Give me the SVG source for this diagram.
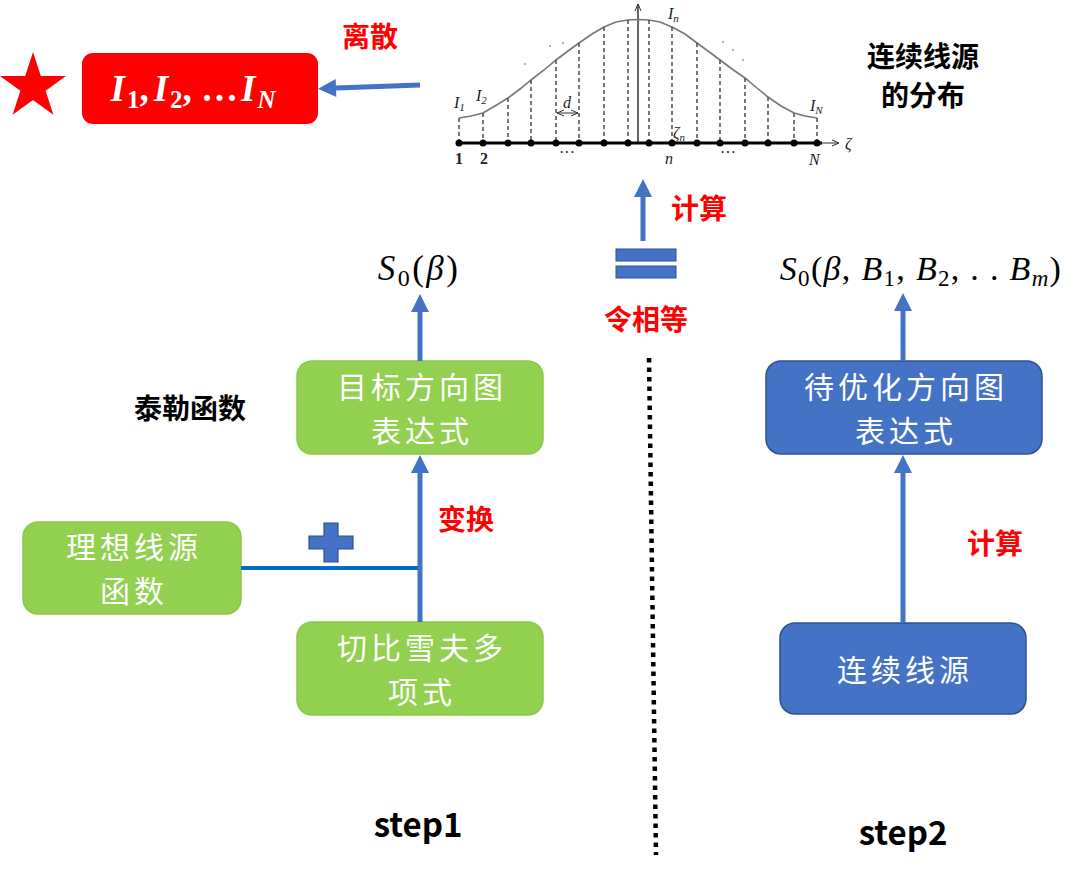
<svg xmlns="http://www.w3.org/2000/svg" width="1080" height="876" viewBox="0 0 1080 876">
<style>
.cn{font-family:"Noto Sans CJK SC","Noto Sans",sans-serif}
.red{fill:#FF0000;font-weight:bold;font-size:28px}
.blk{fill:#000;font-weight:bold;font-size:28px}
.wt{fill:#fff;font-size:30px;letter-spacing:4px}
.math{font-family:"Liberation Serif",serif}
.sm{font-family:"Liberation Serif",serif;font-size:16px;fill:#222}
.conn{stroke:#4472C4;stroke-width:5;fill:none}
.green{fill:#92D050;stroke:#8CC84B;stroke-width:1.5}
.blue{fill:#4472C4;stroke:#2F528F;stroke-width:1.5}
.dash{stroke:#555;stroke-width:1.6;stroke-dasharray:4 3}
</style>
<defs>
<marker id="ah" markerUnits="userSpaceOnUse" markerWidth="18" markerHeight="18" refX="0" refY="9" orient="auto" overflow="visible">
<path d="M0,0 L18,9 L0,18 z" fill="#4472C4"/>
</marker>
<marker id="sa" markerUnits="userSpaceOnUse" markerWidth="8" markerHeight="8" refX="7" refY="4" orient="auto-start-reverse" overflow="visible">
<path d="M0,1 L7,4 L0,7" fill="none" stroke="#333" stroke-width="1"/>
</marker>
</defs>
<rect width="1080" height="876" fill="#fff"/>

<!-- star -->
<polygon id="star" points="33,52 40.8,75.9 66,76 45.6,90.8 53.4,114.8 33,100 12.6,114.8 20.4,90.8 0,76 25.2,75.9" fill="#FF0000"/>

<!-- red result node -->
<g id="node-result">
<rect x="82" y="53" width="236" height="71" rx="11" fill="#FF0000"/>
<text x="193" y="101" text-anchor="middle" class="math" font-weight="bold" font-size="37" fill="#fff"><tspan font-style="italic">I</tspan><tspan font-size="25" dy="7" dx="2">1</tspan><tspan dy="-7">,</tspan><tspan font-style="italic" dx="5">I</tspan><tspan font-size="25" dy="7" dx="2">2</tspan><tspan dy="-7">, …</tspan><tspan font-style="italic" dx="3">I</tspan><tspan font-size="25" font-style="italic" dy="7" dx="2">N</tspan></text>
</g>
<text class="cn red" x="370" y="47" text-anchor="middle">离散</text>

<!-- distribution figure -->
<g id="node-distribution">
<line x1="638" y1="143" x2="638" y2="4" stroke="#333" stroke-width="1.5" marker-end="url(#sa)"/>
<polyline fill="none" stroke="#777" stroke-width="1.6" points="459,118 471,116 483,113 495,106 508,98 520,89 531,80 544,70 556,60 568,51 579,43 592,34 604,27 616,22 628,20 638,19.5 649,20 660,22 672,27 685,34 697,43 708,51 720,60 732,69 745,78 757,88 768,97 781,106 794,113 805,116 817,118"/>
<g class="dash">
<line x1="459" y1="118" x2="459" y2="143"/>
<line x1="483" y1="113" x2="483" y2="143"/>
<line x1="508" y1="98" x2="508" y2="143"/>
<line x1="531" y1="80" x2="531" y2="143"/>
<line x1="556" y1="60" x2="556" y2="143"/>
<line x1="579" y1="43" x2="579" y2="143"/>
<line x1="604" y1="27" x2="604" y2="143"/>
<line x1="628" y1="20" x2="628" y2="143"/>
<line x1="649" y1="20" x2="649" y2="143"/>
<line x1="672" y1="27" x2="672" y2="143"/>
<line x1="697" y1="43" x2="697" y2="143"/>
<line x1="720" y1="60" x2="720" y2="143"/>
<line x1="745" y1="78" x2="745" y2="143"/>
<line x1="768" y1="97" x2="768" y2="143"/>
<line x1="794" y1="113" x2="794" y2="143"/>
<line x1="817" y1="118" x2="817" y2="143"/>
</g>
<line x1="456" y1="143" x2="822" y2="143" stroke="#000" stroke-width="3"/>
<line x1="820" y1="143" x2="839" y2="143" stroke="#333" stroke-width="1" marker-end="url(#sa)"/>
<g fill="#000">
<circle cx="459" cy="143" r="3.5"/><circle cx="483" cy="143" r="3.5"/><circle cx="508" cy="143" r="3.5"/><circle cx="531" cy="143" r="3.5"/>
<circle cx="556" cy="143" r="3.5"/><circle cx="579" cy="143" r="3.5"/><circle cx="604" cy="143" r="3.5"/><circle cx="628" cy="143" r="3.5"/>
<circle cx="649" cy="143" r="3.5"/><circle cx="672" cy="143" r="3.5"/><circle cx="697" cy="143" r="3.5"/><circle cx="720" cy="143" r="3.5"/>
<circle cx="745" cy="143" r="3.5"/><circle cx="768" cy="143" r="3.5"/><circle cx="794" cy="143" r="3.5"/><circle cx="817" cy="143" r="3.5"/>
</g>
<line x1="557" y1="113" x2="578" y2="113" stroke="#333" stroke-width="1" marker-start="url(#sa)" marker-end="url(#sa)"/>
<g fill="#999"><circle cx="525" cy="64" r="1"/><circle cx="550" cy="46" r="1"/><circle cx="563" cy="43" r="1"/><circle cx="723" cy="42" r="1"/><circle cx="733" cy="50" r="1"/><circle cx="743" cy="60" r="1"/></g>
<text class="sm" font-style="italic" x="454" y="108">I<tspan font-size="11" dy="3">1</tspan></text>
<text class="sm" font-style="italic" x="476" y="101">I<tspan font-size="11" dy="3">2</tspan></text>
<text class="sm" font-style="italic" x="563" y="108">d</text>
<text class="sm" font-style="italic" x="668" y="19">I<tspan font-size="11" dy="3">n</tspan></text>
<text class="sm" font-style="italic" x="810" y="111">I<tspan font-size="11" dy="3">N</tspan></text>
<text class="sm" font-style="italic" x="673" y="138">ζ<tspan font-size="11" dy="3">n</tspan></text>
<text class="sm" font-style="italic" x="845" y="149">ζ</text>
<text class="sm" font-weight="bold" x="455" y="164">1</text>
<text class="sm" font-weight="bold" x="480" y="164">2</text>
<text class="sm" x="559" y="158">···</text>
<text class="sm" font-style="italic" x="665" y="164">n</text>
<text class="sm" x="720" y="158">···</text>
<text class="sm" font-style="italic" x="809" y="165">N</text>
</g>
<text class="cn blk" text-anchor="middle"><tspan x="923" y="67">连续线源</tspan><tspan x="923" y="106">的分布</tspan></text>

<!-- equals sign -->
<g id="equals">
<rect x="616" y="249" width="60" height="12" fill="#4472C4" stroke="#2F528F" stroke-width="1"/>
<rect x="616" y="266" width="60" height="12" fill="#4472C4" stroke="#2F528F" stroke-width="1"/>
</g>
<text class="cn red" x="699" y="219" text-anchor="middle">计算</text>
<text class="cn red" x="646" y="330" text-anchor="middle" font-size="30">令相等</text>

<!-- formulas -->
<text id="s0-left" class="math" x="419" y="280" text-anchor="middle" font-size="35" letter-spacing="2.5" fill="#000"><tspan font-style="italic">S</tspan><tspan font-size="24" dy="6">0</tspan><tspan dy="-6">(</tspan><tspan font-style="italic">β</tspan>)</text>
<text id="s0-right" class="math" x="921" y="280" text-anchor="middle" font-size="34" letter-spacing="1.3" fill="#000"><tspan font-style="italic">S</tspan><tspan font-size="23" dy="6">0</tspan><tspan dy="-6">(</tspan><tspan font-style="italic">β</tspan>, <tspan font-style="italic">B</tspan><tspan font-size="23" dy="6">1</tspan><tspan dy="-6">, </tspan><tspan font-style="italic">B</tspan><tspan font-size="23" dy="6">2</tspan><tspan dy="-6">, . . </tspan><tspan font-style="italic">B</tspan><tspan font-size="23" font-style="italic" dy="6">m</tspan><tspan dy="-6">)</tspan></text>

<!-- step1 nodes -->
<g id="node-target">
<rect class="green" x="297" y="361" width="246" height="93" rx="15"/>
<text class="cn wt" text-anchor="middle"><tspan x="422" y="398">目标方向图</tspan><tspan x="422" y="442">表达式</tspan></text>
</g>
<g id="node-ideal">
<rect class="green" x="23" y="522" width="218" height="92" rx="15"/>
<text class="cn wt" text-anchor="middle"><tspan x="134" y="558">理想线源</tspan><tspan x="134" y="602">函数</tspan></text>
</g>
<g id="node-cheb">
<rect class="green" x="297" y="622" width="246" height="93" rx="15"/>
<text class="cn wt" text-anchor="middle"><tspan x="422" y="659">切比雪夫多</tspan><tspan x="422" y="703">项式</tspan></text>
</g>
<text class="cn blk" x="190" y="419" text-anchor="middle">泰勒函数</text>
<text class="cn red" x="466" y="530" text-anchor="middle">变换</text>
<path id="plus" d="M324,523 H338 V536 H353 V549 H338 V562 H324 V549 H309 V536 H324 Z" fill="#4472C4" stroke="#2F528F" stroke-width="1.2"/>
<text class="cn" x="418" y="837" text-anchor="middle" font-size="33" font-weight="bold" fill="#000">step1</text>

<!-- step2 nodes -->
<g id="node-optimize">
<rect class="blue" x="766" y="361" width="276" height="93" rx="15"/>
<text class="cn wt" text-anchor="middle"><tspan x="906" y="398">待优化方向图</tspan><tspan x="906" y="442">表达式</tspan></text>
</g>
<g id="node-continuous">
<rect class="blue" x="780" y="623" width="246" height="91" rx="15"/>
<text class="cn wt" x="905" y="681" text-anchor="middle" font-size="33" letter-spacing="3">连续线源</text>
</g>
<text class="cn red" x="995" y="554" text-anchor="middle">计算</text>
<text class="cn" x="903" y="845" text-anchor="middle" font-size="33" font-weight="bold" fill="#000">step2</text>

<!-- connectors -->
<g id="connectors">
<line class="conn" x1="420" y1="85" x2="336" y2="88" marker-end="url(#ah)"/>
<line class="conn" x1="643" y1="241" x2="643" y2="197" marker-end="url(#ah)"/>
<line class="conn" x1="420" y1="361" x2="420" y2="312" marker-end="url(#ah)"/>
<line class="conn" x1="420" y1="622" x2="420" y2="473" marker-end="url(#ah)"/>
<line x1="241" y1="568" x2="418" y2="568" stroke="#0070C0" stroke-width="4"/>
<line class="conn" x1="903" y1="361" x2="903" y2="311" marker-end="url(#ah)"/>
<line class="conn" x1="903" y1="623" x2="903" y2="473" marker-end="url(#ah)"/>
<line x1="649" y1="358" x2="656" y2="855" stroke="#000" stroke-width="4.5" stroke-dasharray="4.5 5"/>
</g>
</svg>
